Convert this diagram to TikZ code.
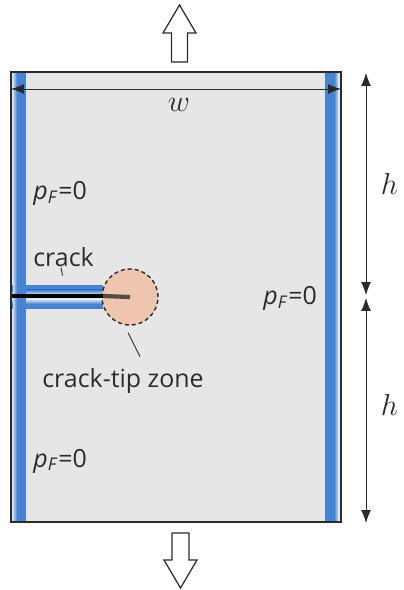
\documentclass[tikz,border=0pt]{standalone}
\usepackage{fontspec}
\setsansfont{Open Sans}
\usetikzlibrary{arrows.meta}

\definecolor{plate}{HTML}{E6E6E6}
\definecolor{edge}{HTML}{2B2B2B}
\definecolor{flow}{HTML}{4683D2}
\definecolor{flowlt}{HTML}{C4D7EF}
\definecolor{tipfill}{HTML}{EEC5AF}
\definecolor{tipline}{HTML}{5A4A45}

\newcommand{\pfzero}{\textit{p}\textsubscript{\textit{F}}=0}

\begin{document}
\begin{tikzpicture}[
  x=0.02cm, y=-0.02cm,
  lbl/.style={font=\fontsize{14.2}{17}\selectfont\sffamily, text=edge, inner sep=0pt},
  mlbl/.style={font=\fontsize{17.28}{20}\selectfont, text=edge, inner sep=0pt},
  dim/.style={{Latex[length=2.6mm,width=2mm]}-{Latex[length=2.6mm,width=2mm]},
              edge, line width=0.5pt},
  blk/.style={draw=edge, line width=0.7pt, fill=white, line join=miter},
  lead/.style={edge, line width=0.5pt}
]
  \useasboundingbox (0,0) rectangle (403,590);

  % plate and drained boundaries
  \fill[plate] (11,72) rectangle (341,522);
  \fill[flow] (11,285) rectangle (103,290);
  \shade[top color=flow, bottom color=flowlt] (11,290) rectangle (103,294);
  \shade[top color=flowlt, bottom color=flow] (11,300) rectangle (103,304);
  \fill[flow] (11,304) rectangle (103,309);
  \shade[left color=flowlt, right color=flow] (13,72) rectangle (17,522);
  \fill[flow] (17,72) rectangle (26,522);
  \fill[flow] (325,72) rectangle (334,522);
  \shade[left color=flow, right color=flowlt] (334,72) rectangle (338,522);

  % crack and tip zone
  \coordinate (mouth) at (11,296);
  \coordinate (bandend) at (103,296);
  \node[circle, draw=edge, fill=tipfill, line width=0.8pt,
        dash pattern=on 2.3pt off 1.7pt, minimum size=1.12cm,
        inner sep=0pt] (zone) at (130,297) {};

  \node[lbl, anchor=base west] (cracklbl) at (33,267) {crack};
  \draw[lead] (cracklbl.south) ++(-1,8) -- (cracklbl.south -| 61,0 |- mouth);
  \draw[line width=2.4pt, black] (mouth) -- (bandend);
  \draw[line width=2.4pt, tipline] (bandend) -- (zone.center);

  \node[lbl, anchor=base west] (tiplbl) at (42,387) {crack-tip zone};
  \draw[lead] (zone.south) ++(-2,7) -- ++(12,24);

  % outline
  \draw[edge, line width=1.1pt] (11,72) rectangle (341,522);

  % pore pressure labels
  \node[lbl, anchor=base west] (pftop) at (33,200) {\pfzero};
  \node[lbl, anchor=base west] (pfmid) at (263,305) {\pfzero};
  \node[lbl, anchor=base west] (pfbot) at (33,467) {\pfzero};

  % dimensions
  \coordinate (wl) at (11,89);
  \coordinate (wr) at (341,89);
  \draw[dim] (wl) -- (wr);
  \node[mlbl, anchor=base] (wlbl) at (179,112) {$w$};

  \coordinate (htop) at (366,73);
  \coordinate (hup) at (366,295);
  \coordinate (hlow) at (366,298);
  \coordinate (hbot) at (366,523);
  \draw[dim] (htop) -- (hup);
  \draw[dim] (hlow) -- (hbot);
  \node[mlbl, anchor=base] (hlbla) at (389.5,195) {$h$};
  \node[mlbl, anchor=base] (hlblb) at (389.5,415) {$h$};

  % loading
  \draw[blk] (171.5,62) -- (171.5,33) -- (163,33) -- (179.5,5)
    -- (196,33) -- (187.5,33) -- (187.5,62) -- cycle;
  \draw[blk] (172,533) -- (172,560) -- (164,560) -- (180.5,588)
    -- (197,560) -- (189,560) -- (189,533) -- cycle;
\end{tikzpicture}
\end{document}
